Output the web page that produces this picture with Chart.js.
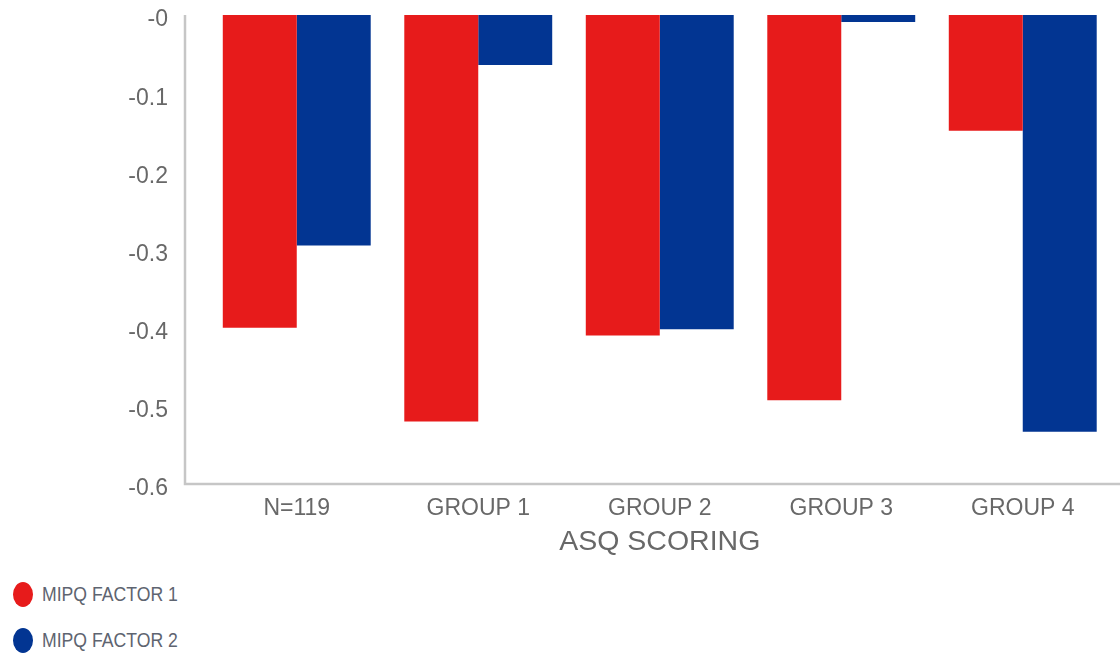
<!DOCTYPE html>
<html lang="en">
<head>
  <meta charset="UTF-8">
  <title>ASQ Scoring - MIPQ Factors</title>
  <script src="https://cdn.jsdelivr.net/npm/chart.js"></script>
  <style>
    body { margin: 0; background: #fff; }
    #wrap { position: relative; width: 1120px; height: 654px; }
    #legend { position: absolute; left: 13px; top: 581px; font-family: "Liberation Sans", Arial, sans-serif; font-size: 21px; color: #5e6470; }
    .item { display: flex; align-items: center; height: 26px; margin-bottom: 20px; white-space: nowrap; }
    .dot { width: 20px; height: 25px; border-radius: 50%; margin-right: 9px; flex: none; }
    .txt { display: inline-block; transform: scaleX(0.84); transform-origin: left center; }
  </style>
</head>
<body>
  <div id="wrap">
    <canvas id="asqChart" width="1120" height="570"></canvas>
    <div id="legend"></div>
  </div>

  <script>
    const categories = ['N=119', 'GROUP 1', 'GROUP 2', 'GROUP 3', 'GROUP 4'];
    const factor1 = [-0.40, -0.52, -0.41, -0.493, -0.148];
    const factor2 = [-0.295, -0.064, -0.402, -0.009, -0.533];
    const yTickLabels = ['-0', '-0.1', '-0.2', '-0.3', '-0.4', '-0.5', '-0.6'];
    const seriesNames = ['MIPQ FACTOR 1', 'MIPQ FACTOR 2'];

    const red = '#e71b1b';
    const blue = '#023592';
    const textGray = '#686868';
    const labelFont = '"Liberation Sans", Arial, sans-serif';

    // axis lines sit a bit left of the plot, like the original
    const axisLines = {
      id: 'axisLines',
      afterDraw(chart) {
        const { ctx, chartArea } = chart;
        ctx.save();
        ctx.strokeStyle = '#c6c6c6';
        ctx.lineWidth = 2.5;
        ctx.beginPath();
        ctx.moveTo(185, chartArea.top);
        ctx.lineTo(185, chartArea.bottom);
        ctx.lineTo(chart.width, chartArea.bottom);
        ctx.stroke();
        ctx.restore();
      }
    };

    const noPad = (scale) => {
      scale.paddingTop = 0;
      scale.paddingBottom = 0;
      scale.paddingLeft = 0;
      scale.paddingRight = 0;
    };

    const ctx = document.getElementById('asqChart').getContext('2d');
    const chart = new Chart(ctx, {
      type: 'bar',
      data: {
        labels: categories,
        datasets: [
          { label: seriesNames[0], data: factor1, backgroundColor: red },
          { label: seriesNames[1], data: factor2, backgroundColor: blue }
        ]
      },
      options: {
        responsive: false,
        animation: false,
        categoryPercentage: 0.815,
        barPercentage: 1.0,
        layout: { padding: { top: 15, right: 6.5, left: 0, bottom: 0 } },
        plugins: {
          legend: { display: false },
          tooltip: { enabled: false }
        },
        scales: {
          x: {
            grid: { display: false, drawTicks: false },
            border: { display: false },
            ticks: {
              color: textGray,
              padding: 11,
              font: { family: labelFont, size: 23 }
            },
            title: {
              display: true,
              text: 'ASQ SCORING',
              color: textGray,
              padding: { top: 0, bottom: 11 },
              font: { family: labelFont, size: 28.5 }
            },
            afterFit(scale) { scale.height = 86; noPad(scale); }
          },
          y: {
            min: -0.6,
            max: 0,
            grid: { display: false, drawTicks: false },
            border: { display: false },
            ticks: {
              stepSize: 0.1,
              color: textGray,
              padding: 38,
              labelOffset: 5,
              font: { family: labelFont, size: 23 },
              callback: (v) => yTickLabels[Math.round(-v * 10)]
            },
            afterFit(scale) { scale.width = 206; noPad(scale); }
          }
        }
      },
      plugins: [axisLines]
    });

    const legend = document.getElementById('legend');
    chart.data.datasets.forEach(ds => {
      const item = document.createElement('div');
      item.className = 'item';
      const dot = document.createElement('span');
      dot.className = 'dot';
      dot.style.background = ds.backgroundColor;
      const txt = document.createElement('span');
      txt.className = 'txt';
      txt.textContent = ds.label;
      item.appendChild(dot);
      item.appendChild(txt);
      legend.appendChild(item);
    });
  </script>
</body>
</html>
